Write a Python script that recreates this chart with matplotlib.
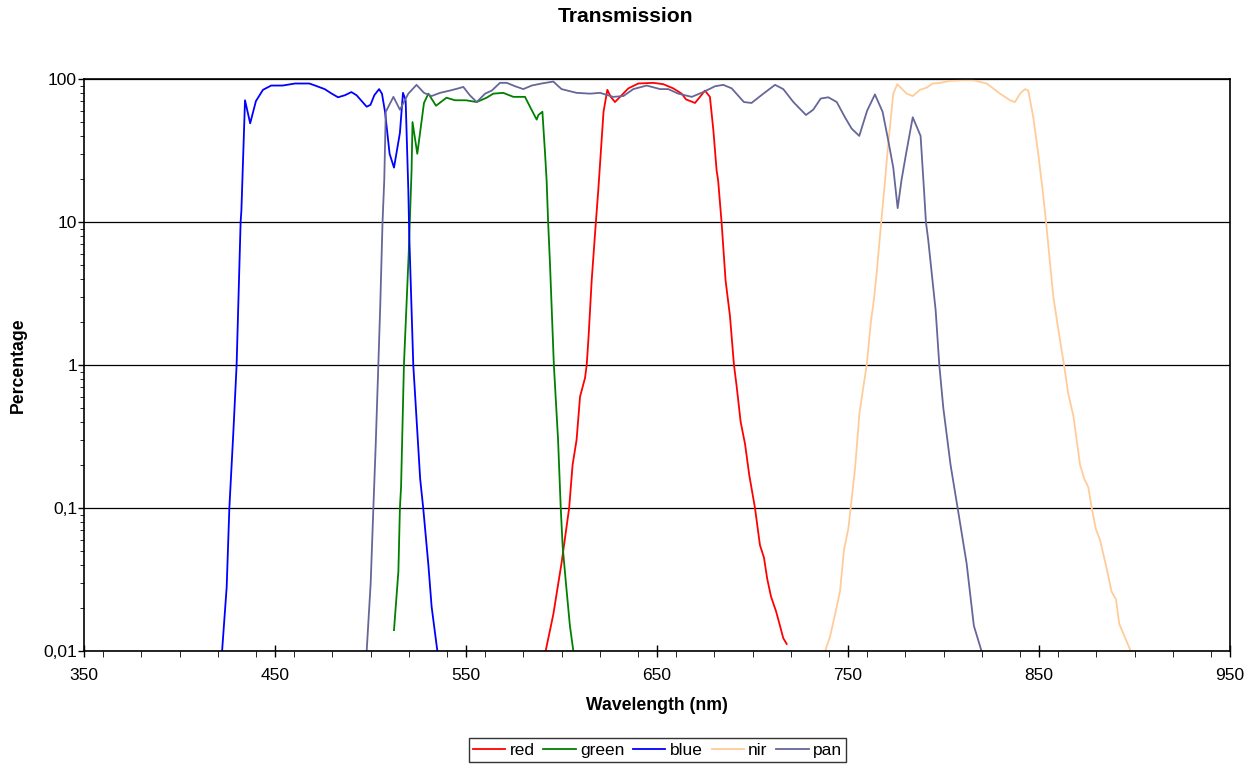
import numpy as np
import matplotlib
matplotlib.use("Agg")
import matplotlib.pyplot as plt
from matplotlib.ticker import FixedLocator, NullFormatter, MultipleLocator

plt.rcParams['font.family'] = ['Liberation Sans', 'DejaVu Sans']

# =========================
# DATA
# =========================

blueNm = [422.3, 424.7, 426.1, 428.2, 429.9, 432.0, 432.4, 434.3, 437.0, 440.0, 443.7, 448.0, 454.0,
          460.5, 468.0, 471.0, 476.0, 479.7, 483.0, 486.6, 490.0, 492.7, 498.0, 500.0, 502.0, 504.5,
          506.0, 507.6, 510.0, 512.3, 515.4, 517.0, 518.4, 519.8, 520.3, 522.4, 524.2, 526.0, 527.6,
          530.3, 532.0, 535.0]
blueVal = [0.01, 0.028, 0.1, 0.34, 1.0, 10.0, 12.0, 71, 49, 70, 84, 90, 90,
           93, 93, 90, 85, 79, 74.5, 77, 81, 77, 64, 66, 77, 85,
           79, 59, 30, 24, 42, 80, 71, 16.7, 8.0, 1.0, 0.40, 0.16, 0.1,
           0.04, 0.0204, 0.01]

greenNm = [512.3, 514.6, 515.4, 516.0, 517.5, 520.0, 521.5, 522.0, 524.5, 528.0, 530.3, 534.3,
           539.8, 544.2, 550.0, 555.6, 560.8, 564.3, 569.5, 574.8, 580.9, 583.5, 587.0, 587.9,
           590.0, 591.4, 592.2, 593.0, 594.0, 596.0, 598.2, 599.6, 600.6, 602.3, 604.4, 606.2]
greenVal = [0.014, 0.036, 0.1, 0.14, 1.0, 6.0, 23, 50, 30, 68, 79, 65,
            74, 71, 71, 69, 74, 79, 80, 75, 75, 64, 52, 56,
            59, 30, 19.6, 10, 5, 1.0, 0.3, 0.1, 0.054, 0.03, 0.015, 0.01]

redNm = [591.7, 595.7, 600.0, 604.0, 605.8, 607.9, 609.7, 612.3, 613.2, 614.2, 615.8, 618.0,
         619.3, 622.0, 624.0, 625.8, 628.0, 631.5, 635.0, 640.2, 648.0, 653.3, 658.5, 662.9,
         665.2, 669.9, 672.5, 675.1, 677.7, 679.5, 681.2, 682.0, 683.8, 685.9, 688.2, 690.3,
         691.7, 693.8, 696.1, 698.3, 701.3, 703.9, 706.0, 707.7, 709.7, 712.3, 714.4, 716.1, 717.9]
redVal = [0.01, 0.018, 0.041, 0.1, 0.2, 0.3, 0.6, 0.81, 1.0, 1.6, 3.9, 10,
          17, 59, 84, 75, 69, 77, 86, 93, 94, 92, 86, 79,
          72, 68, 75, 83, 75, 44, 23, 19.6, 10, 3.9, 2.2, 1.0,
          0.71, 0.4, 0.28, 0.17, 0.1, 0.055, 0.045, 0.032, 0.024, 0.019, 0.015, 0.0123, 0.0112]

nirNm = [738.0, 740.6, 743.2, 745.8, 747.9, 750.2, 751.4, 753.7, 756.0, 757.5, 759.8, 761.9,
         763.6, 765.0, 767.4, 769.4, 771.1, 773.7, 775.8, 780.7, 783.9, 787.7, 791.2, 794.3,
         798.2, 803.4, 810.4, 815.6, 822.6, 829.6, 834.8, 837.4, 840.4, 842.7, 844.4, 847.0,
         849.6, 851.9, 853.7, 855.8, 857.5, 859.6, 863.1, 865.3, 868.0, 871.5, 873.7, 875.8,
         877.6, 879.8, 881.9, 885.4, 888.0, 890.3, 892.0, 898.0]
nirVal = [0.01, 0.0126, 0.018, 0.026, 0.051, 0.072, 0.1, 0.19, 0.46, 0.63, 1.0, 1.96,
          2.9, 4.4, 10, 19.6, 35.5, 79, 92, 79, 76, 84, 87, 93,
          94, 97, 98, 98, 93, 79, 71, 69, 80, 85, 83, 54,
          30, 16.7, 10, 5.1, 3.0, 1.96, 1.0, 0.63, 0.44, 0.2, 0.16, 0.14,
          0.1, 0.071, 0.06, 0.038, 0.026, 0.023, 0.0155, 0.01]

panNm = [498.0, 500.1, 501.5, 502.7, 504.1, 505.1, 506.3, 507.2, 508.0, 512.0, 515.4, 519.8,
         524.1, 528.0, 532.0, 536.4, 541.6, 546.0, 548.6, 552.0, 555.6, 560.0, 563.5, 567.8,
         571.3, 575.7, 580.0, 584.4, 589.6, 595.7, 600.0, 607.9, 615.0, 620.2, 627.1, 632.4,
         637.6, 644.6, 651.6, 655.9, 661.1, 668.2, 674.2, 680.4, 684.7, 689.1, 695.5, 699.5,
         705.7, 711.8, 716.1, 721.4, 728.0, 731.8, 735.7, 739.7, 744.1, 748.4, 751.9, 755.9,
         760.0, 764.1, 768.1, 771.1, 773.7, 776.0, 778.0, 780.4, 783.9, 788.0, 789.8, 790.8,
         792.0, 795.9, 797.8, 799.9, 803.7, 807.4, 812.1, 815.9, 819.9]
panVal = [0.01, 0.03, 0.1, 0.27, 1.0, 2.6, 10, 19.6, 59, 75, 61, 79,
          91, 80, 76, 80, 83, 86, 88, 77, 69, 79, 83, 94,
          94, 89, 85, 90, 93, 96, 85, 80, 79, 80, 75, 76,
          85, 90, 85, 85, 79, 75, 81, 89, 91, 86, 69, 68,
          79, 91, 85, 69, 56, 61, 73, 74.5, 69, 54, 45, 40,
          60, 78, 59, 37, 24, 12.5, 19.6, 30, 54, 40, 16.7, 10,
          7.5, 2.4, 1.0, 0.5, 0.2, 0.1, 0.041, 0.015, 0.01]

seriesNames = ["red", "green", "blue", "nir", "pan"]
seriesColors = ["#FF0000", "#008000", "#0000FF", "#FFCC99", "#666699"]

yTicks = [0.01, 0.1, 1, 10, 100]
yTickLabels = ["0,01", "0,1", "1", "10", "100"]
xTicks = [350, 450, 550, 650, 750, 850, 950]

# =========================
# PLOT
# =========================

W, H = 1256, 764
fig = plt.figure(figsize=(W / 100, H / 100), dpi=100)
ax = fig.add_axes([84 / W, 1 - 651 / H, (1230 - 84) / W, (651 - 79) / H])

allData = [(redNm, redVal), (greenNm, greenVal), (blueNm, blueVal), (nirNm, nirVal), (panNm, panVal)]
for (xs, ys), name, col in zip(allData, seriesNames, seriesColors):
    ax.plot(xs, ys, color=col, linewidth=1.3, label=name)

ax.set_yscale("log")
ax.set_ylim(0.01, 100)
ax.set_xlim(350, 950)

ax.yaxis.set_major_locator(FixedLocator(yTicks))
ax.set_yticklabels(yTickLabels)
ax.yaxis.set_minor_formatter(NullFormatter())
ax.set_xticks(xTicks)
ax.xaxis.set_minor_locator(MultipleLocator(20))

ax.grid(True, which="major", axis="y", color="black", linewidth=0.9)
ax.set_axisbelow(True)

ax.tick_params(axis="both", which="major", labelsize=12.5, colors="black", width=1)
ax.tick_params(axis="x", which="major", direction="inout", length=9, pad=8)
ax.tick_params(axis="x", which="minor", direction="out", length=4)
ax.tick_params(axis="y", which="major", direction="out", length=4, pad=1)
ax.tick_params(axis="y", which="minor", direction="out", length=3)

for s in ax.spines.values():
    s.set_color("black")
    s.set_linewidth(1.2)

fig.text(657 / W, 1 - 706 / H, "Wavelength (nm)", ha="center", va="center",
         fontsize=12.7, fontweight="bold")
fig.text(18.5 / W, 1 - 365 / H, "Percentage", ha="center", va="center", rotation=90,
         fontsize=12.7, fontweight="bold")
fig.text(625 / W, 1 - 17 / H, "Transmission", ha="center", va="center",
         fontsize=15.2, fontweight="bold")

leg = fig.legend(loc="lower center", bbox_to_anchor=(657.5 / W, 2 / H), ncol=5, fontsize=12.5,
                 frameon=True, fancybox=False, handlelength=1.85, handletextpad=0.25,
                 columnspacing=0.52, borderpad=0.25, borderaxespad=0)
leg.get_frame().set_edgecolor("black")
leg.get_frame().set_linewidth(1.0)

fig.savefig("out.png", dpi=100)
